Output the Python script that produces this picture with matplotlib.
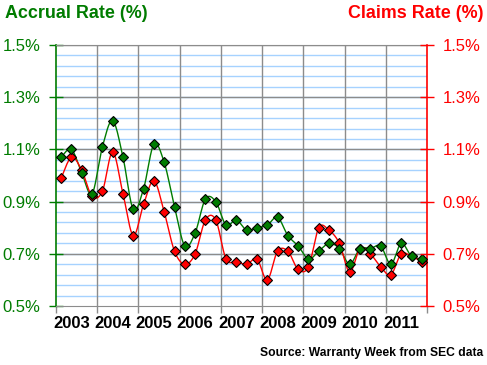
import numpy as np
import matplotlib
matplotlib.use("Agg")
import matplotlib.pyplot as plt
from matplotlib.ticker import FixedLocator

plt.rcParams['font.family'] = ['Liberation Sans', 'DejaVu Sans']

# ---- data (quarterly, 2003Q1 .. 2011Q4) ----
years = ['2003', '2004', '2005', '2006', '2007', '2008', '2009', '2010', '2011']
accrual = [1.07, 1.10, 1.01, 0.93, 1.11, 1.21, 1.07, 0.87,
           0.95, 1.12, 1.05, 0.88, 0.73, 0.78, 0.91, 0.90,
           0.81, 0.83, 0.79, 0.80, 0.81, 0.84, 0.77, 0.73,
           0.68, 0.71, 0.74, 0.72, 0.66, 0.72, 0.72, 0.73,
           0.66, 0.74, 0.69, 0.68]
claims = [0.99, 1.07, 1.02, 0.92, 0.94, 1.09, 0.93, 0.77,
          0.89, 0.98, 0.86, 0.71, 0.66, 0.70, 0.83, 0.83,
          0.68, 0.67, 0.66, 0.68, 0.60, 0.71, 0.71, 0.64,
          0.65, 0.80, 0.79, 0.74, 0.63, 0.72, 0.70, 0.65,
          0.62, 0.70, 0.69, 0.67]

GREEN = '#007c00'
RED = '#ff0000'


def smooth(x, y, n=40, t=0.5):
    # cardinal spline through the points, like Excel's smoothed line
    x = np.asarray(x, float)
    y = np.asarray(y, float)
    px = np.concatenate([[x[0]], x, [x[-1]]])
    py = np.concatenate([[y[0]], y, [y[-1]]])
    xs, ys = [], []
    s = np.linspace(0, 1, n)
    h00 = 2 * s**3 - 3 * s**2 + 1
    h10 = s**3 - 2 * s**2 + s
    h01 = -2 * s**3 + 3 * s**2
    h11 = s**3 - s**2
    for i in range(1, len(px) - 2):
        mx0 = t * (px[i + 1] - px[i - 1]); my0 = t * (py[i + 1] - py[i - 1])
        mx1 = t * (px[i + 2] - px[i]); my1 = t * (py[i + 2] - py[i])
        xs.append(h00 * px[i] + h10 * mx0 + h01 * px[i + 1] + h11 * mx1)
        ys.append(h00 * py[i] + h10 * my0 + h01 * py[i + 1] + h11 * my1)
    return np.concatenate(xs), np.concatenate(ys)


xq = np.arange(len(accrual)) + 0.5

fig = plt.figure(figsize=(4.87, 3.65), dpi=100)
ax = fig.add_axes([56 / 487, 1 - 306 / 365, 371 / 487, 261 / 365])
ax.set_xlim(0, 36)
ax.set_ylim(0.5, 1.5)

# grid
for v in np.arange(0.54, 1.5, 0.04):
    ax.axhline(v, color='#a6d2ff', lw=1, zorder=1)
for v in [0.7, 0.9, 1.1, 1.3, 1.5]:
    ax.axhline(v, color='#8c8c8c', lw=1, zorder=1.5)
for k in range(1, 9):
    ax.axvline(k * 4, color='#8c8c8c', lw=1, zorder=1.5)

sx, sy = smooth(xq, accrual)
ax.plot(sx, sy, color=GREEN, lw=1, zorder=3)
sx, sy = smooth(xq, claims)
ax.plot(sx, sy, color=RED, lw=1, zorder=3)
ax.plot(xq, claims, ls='none', marker='D', ms=5, mfc=RED, mec='black', mew=0.8, zorder=4)
ax.plot(xq, accrual, ls='none', marker='D', ms=5, mfc=GREEN, mec='black', mew=0.8, zorder=5)

for s in ['top', 'bottom']:
    ax.spines[s].set_color('#8c8c8c')
ax.spines['left'].set_color(GREEN)
ax.spines['left'].set_linewidth(1.2)
ax.spines['right'].set_color(RED)
ax.spines['right'].set_linewidth(1.2)

yt = [0.5, 0.7, 0.9, 1.1, 1.3, 1.5]
ytl = ['0.5%', '0.7%', '0.9%', '1.1%', '1.3%', '1.5%']
ax.yaxis.set_major_locator(FixedLocator(yt))
ax.set_yticklabels(ytl)
ax.tick_params(axis='y', colors=GREEN, direction='inout', length=10, width=1,
               labelsize=12, pad=6)

ax2 = ax.twinx()
ax2.set_ylim(0.5, 1.5)
ax2.yaxis.set_major_locator(FixedLocator(yt))
ax2.set_yticklabels(ytl)
ax2.tick_params(axis='y', colors=RED, direction='inout', length=10, width=1,
                labelsize=12, pad=6)
for s in ax2.spines.values():
    s.set_visible(False)

ax.xaxis.set_major_locator(FixedLocator(np.arange(0, 37, 4)))
ax.set_xticklabels([])
ax.tick_params(axis='x', colors='#8c8c8c', direction='out', length=5, width=1)
for i, yr in enumerate(years):
    ax.text(i * 4 + 1.5, -0.068, yr, transform=ax.get_xaxis_transform(),
            ha='center', va='center', fontsize=12, fontweight='bold', color='black')

fig.text(5 / 487, 1 - 14 / 365, 'Accrual Rate (%)', color=GREEN, fontsize=12.9,
         fontweight='bold', ha='left', va='center')
fig.text(483 / 487, 1 - 14 / 365, 'Claims Rate (%)', color=RED, fontsize=12.9,
         fontweight='bold', ha='right', va='center')
fig.text(483 / 487, 1 - 353 / 365, 'Source: Warranty Week from SEC data', color='black',
         fontsize=8.7, fontweight='bold', ha='right', va='center')

fig.savefig('out.png', dpi=100)
